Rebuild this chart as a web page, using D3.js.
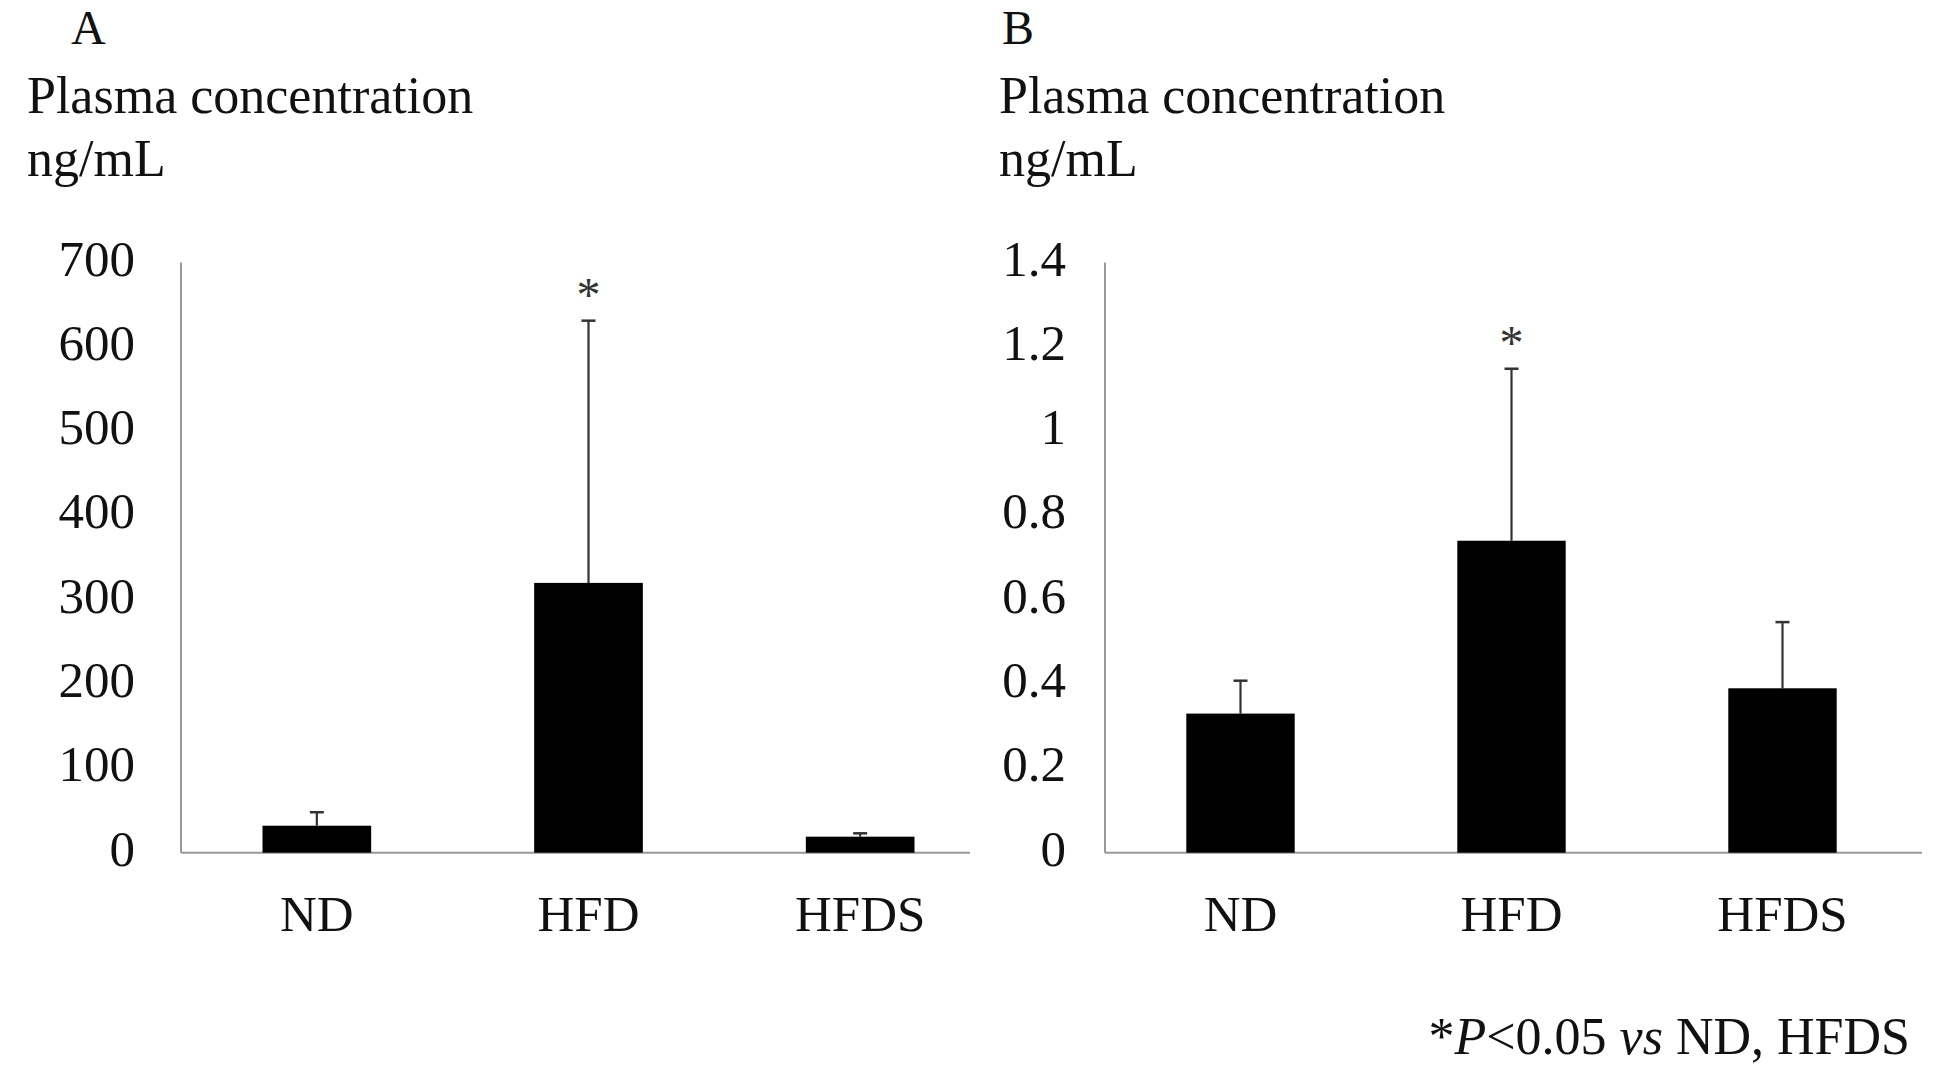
<!DOCTYPE html>
<html>
<head>
<meta charset="utf-8">
<script src="https://cdn.jsdelivr.net/npm/d3@7"></script>
<style>
  body { margin: 0; background: #fff; }
  text { font-family: "Liberation Serif", "Times New Roman", serif; fill: #111; }
</style>
</head>
<body>
<div id="chart"></div>
<script>
// groups and values
var groups = ["ND", "HFD", "HFDS"];
var meanA = [32, 320, 19];
var sdA = [16, 311, 4];
var meanB = [0.33, 0.74, 0.39];
var sdB = [0.078, 0.408, 0.157];
var ticksA = [0, 100, 200, 300, 400, 500, 600, 700];
var ticksB = [0, 0.2, 0.4, 0.6, 0.8, 1, 1.2, 1.4];
var starA = ["HFD"], starB = ["HFD"];

var W = 1946, H = 1085;
var svg = d3.select("#chart").append("svg").attr("width", W).attr("height", H);

function panel(o){
  var g = svg.append("g");
  var x = d3.scaleBand().domain(groups).range([o.x0, o.x1]);
  var y = d3.scaleLinear().domain([0, o.max]).range([852.7, 262.5]);
  var bw = x.step() * 0.4;

  g.append("text").attr("x", o.lx).attr("y", 44).style("font-size", "48px").text(o.letter);
  g.append("text").attr("x", o.tx).attr("y", o.ty).style("font-size", "52px").text("Plasma concentration");
  g.append("text").attr("x", o.tx).attr("y", o.ty + 63).style("font-size", "52px").text("ng/mL");

  // y tick labels
  g.selectAll(".yt").data(o.ticks).enter().append("text")
    .attr("x", o.x0 - o.gap).attr("y", function(d){ return y(d) - 4; })
    .attr("text-anchor", "end").attr("dominant-baseline", "central")
    .style("font-size", "51px")
    .text(function(d){ return String(+d.toFixed(1)); });

  // axes
  g.append("line").attr("x1", o.x0).attr("x2", o.x0)
    .attr("y1", y(0)).attr("y2", y(o.max))
    .attr("stroke", "#999").attr("stroke-width", 2);
  g.append("line").attr("x1", o.x0).attr("x2", o.axEnd)
    .attr("y1", y(0)).attr("y2", y(0))
    .attr("stroke", "#999").attr("stroke-width", 2);

  var data = groups.map(function(k, i){ return {k: k, m: o.mean[i], s: o.sd[i]}; });

  // error bars (upper only)
  var eb = g.selectAll(".eb").data(data).enter().append("g");
  eb.append("line")
    .attr("x1", function(d){ return x(d.k) + x.bandwidth()/2; })
    .attr("x2", function(d){ return x(d.k) + x.bandwidth()/2; })
    .attr("y1", function(d){ return y(d.m); })
    .attr("y2", function(d){ return y(d.m + d.s); })
    .attr("stroke", "#333").attr("stroke-width", 2.2);
  eb.append("line")
    .attr("x1", function(d){ return x(d.k) + x.bandwidth()/2 - 7; })
    .attr("x2", function(d){ return x(d.k) + x.bandwidth()/2 + 7; })
    .attr("y1", function(d){ return y(d.m + d.s); })
    .attr("y2", function(d){ return y(d.m + d.s); })
    .attr("stroke", "#333").attr("stroke-width", 2.5);

  g.selectAll(".bar").data(data).enter().append("rect")
    .attr("x", function(d){ return x(d.k) + x.bandwidth()/2 - bw/2; })
    .attr("width", bw)
    .attr("y", function(d){ return y(d.m); })
    .attr("height", function(d){ return y(0) - y(d.m); })
    .attr("fill", "#000");

  g.selectAll(".star").data(data.filter(function(d){ return o.star.indexOf(d.k) >= 0; }))
    .enter().append("text")
    .attr("x", function(d){ return x(d.k) + x.bandwidth()/2; })
    .attr("y", function(d){ return y(d.m + d.s) - 10; })
    .attr("text-anchor", "middle").style("font-size", "48px").style("fill", "#333")
    .text("*");

  g.selectAll(".xl").data(groups).enter().append("text")
    .attr("x", function(d){ return x(d) + x.bandwidth()/2; })
    .attr("y", 931).attr("text-anchor", "middle").style("font-size", "51px")
    .text(function(d){ return d; });
}

panel({letter: "A", lx: 71, tx: 27, ty: 113, x0: 181, x1: 996, axEnd: 970, gap: 46,
  max: 700, ticks: ticksA, mean: meanA, sd: sdA, star: starA});
panel({letter: "B", lx: 1002, tx: 999, ty: 113, x0: 1105, x1: 1918, axEnd: 1922, gap: 39,
  max: 1.4, ticks: ticksB, mean: meanB, sd: sdB, star: starB});

// footnote
var foot = svg.append("text").attr("x", 1910).attr("y", 1054)
  .attr("text-anchor", "end").style("font-size", "52px");
foot.append("tspan").text("*");
foot.append("tspan").style("font-style", "italic").text("P");
foot.append("tspan").text("<0.05 ");
foot.append("tspan").style("font-style", "italic").text("vs");
foot.append("tspan").text(" ND, HFDS");
</script>
</body>
</html>
